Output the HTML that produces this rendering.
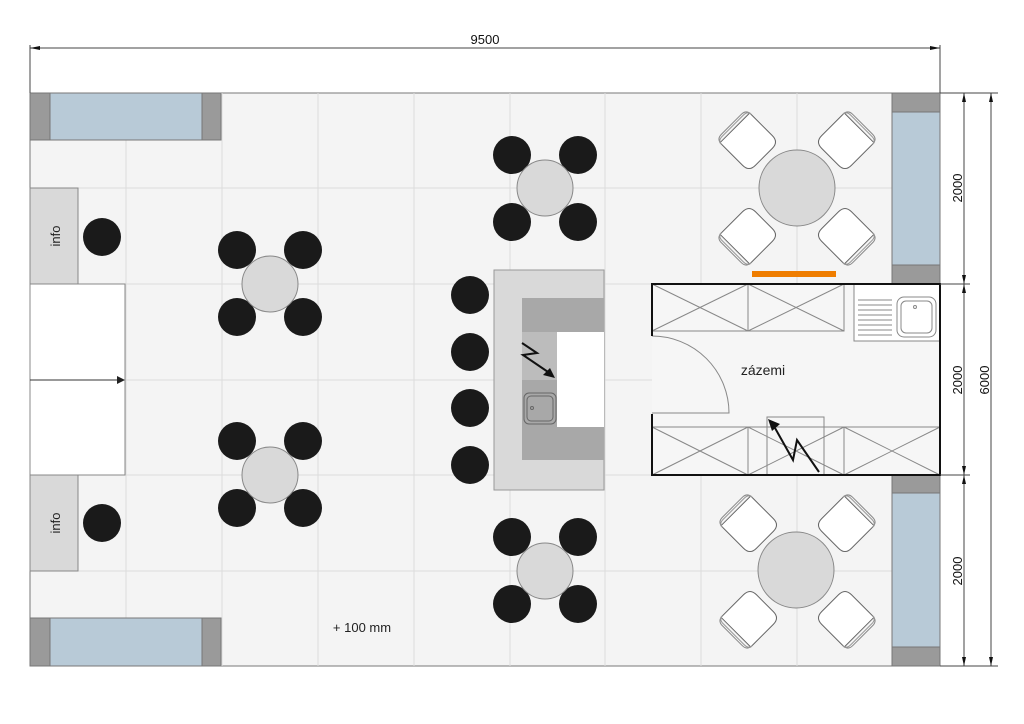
<!DOCTYPE html>
<html><head><meta charset="utf-8"><style>html,body{margin:0;padding:0;background:#fff}svg{display:block}text{font-family:"Liberation Sans",sans-serif}</style></head><body>
<svg width="1024" height="724" viewBox="0 0 1024 724" xmlns="http://www.w3.org/2000/svg">
<defs>
<g id="chair">
<path d="M-21,-20 L21,-20 L21,12 Q21,21 12,21 L-12,21 Q-21,21 -21,12 Z" fill="#fff" stroke="#666" stroke-width="1"/>
<path d="M-21,-18 Q-21,-25 -14,-25 L14,-25 Q21,-25 21,-18" fill="none" stroke="#888" stroke-width="1"/>
<path d="M-21,-18 Q-21,-23 -15,-23 L15,-23 Q21,-23 21,-18" fill="none" stroke="#999" stroke-width="1"/>
</g>
</defs>
<rect x="30" y="93" width="910" height="573" fill="#f4f4f4" stroke="#777" stroke-width="1"/>
<g stroke="#dcdcdc" stroke-width="1">
<line x1="126" y1="93" x2="126" y2="666"/><line x1="222" y1="93" x2="222" y2="666"/><line x1="318" y1="93" x2="318" y2="666"/><line x1="414" y1="93" x2="414" y2="666"/><line x1="510" y1="93" x2="510" y2="666"/><line x1="605" y1="93" x2="605" y2="666"/><line x1="701" y1="93" x2="701" y2="666"/><line x1="797" y1="93" x2="797" y2="666"/><line x1="893" y1="93" x2="893" y2="666"/>
<line x1="30" y1="188" x2="940" y2="188"/><line x1="30" y1="284" x2="940" y2="284"/><line x1="30" y1="380" x2="940" y2="380"/><line x1="30" y1="475" x2="940" y2="475"/><line x1="30" y1="571" x2="940" y2="571"/>
</g>
<g stroke="#777" stroke-width="1">
<rect x="30" y="93" width="20" height="47" fill="#9a9a9a"/><rect x="50" y="93" width="152" height="47" fill="#b8cad7"/><rect x="202" y="93" width="19" height="47" fill="#9a9a9a"/>
<rect x="30" y="618" width="20" height="48" fill="#9a9a9a"/><rect x="50" y="618" width="152" height="48" fill="#b8cad7"/><rect x="202" y="618" width="19" height="48" fill="#9a9a9a"/>
<rect x="892" y="93" width="48" height="19" fill="#9a9a9a"/><rect x="892" y="112" width="48" height="153" fill="#b8cad7"/><rect x="892" y="265" width="48" height="19" fill="#9a9a9a"/>
<rect x="892" y="475" width="48" height="18" fill="#9a9a9a"/><rect x="892" y="493" width="48" height="154" fill="#b8cad7"/><rect x="892" y="647" width="48" height="19" fill="#9a9a9a"/>
</g>
<rect x="30" y="188" width="48" height="96" fill="#d9d9d9" stroke="#888"/>
<rect x="30" y="475" width="48" height="96" fill="#d9d9d9" stroke="#888"/>
<text transform="translate(60,236) rotate(-90)" font-size="13" text-anchor="middle" fill="#222">info</text>
<text transform="translate(60,523) rotate(-90)" font-size="13" text-anchor="middle" fill="#222">info</text>
<rect x="30" y="284" width="95" height="191" fill="#fff" stroke="#888"/>
<line x1="30" y1="380" x2="120" y2="380" stroke="#333"/><path d="M125,380 L117,376 L117,384Z" fill="#222"/>
<g fill="#1a1a1a">
<circle cx="102" cy="237" r="19"/><circle cx="102" cy="523" r="19"/>
<circle cx="237" cy="250" r="19"/><circle cx="303" cy="250" r="19"/><circle cx="237" cy="317" r="19"/><circle cx="303" cy="317" r="19"/>
<circle cx="237" cy="441" r="19"/><circle cx="303" cy="441" r="19"/><circle cx="237" cy="508" r="19"/><circle cx="303" cy="508" r="19"/>
<circle cx="512" cy="155" r="19"/><circle cx="578" cy="155" r="19"/><circle cx="512" cy="222" r="19"/><circle cx="578" cy="222" r="19"/>
<circle cx="512" cy="537" r="19"/><circle cx="578" cy="537" r="19"/><circle cx="512" cy="604" r="19"/><circle cx="578" cy="604" r="19"/>
<circle cx="470" cy="295" r="19"/><circle cx="470" cy="352" r="19"/><circle cx="470" cy="408" r="19"/><circle cx="470" cy="465" r="19"/>
</g>
<g fill="#d9d9d9" stroke="#888">
<circle cx="270" cy="284" r="28"/><circle cx="270" cy="475" r="28"/><circle cx="545" cy="188" r="28"/><circle cx="545" cy="571" r="28"/>
</g>
<rect x="494" y="270" width="110" height="220" fill="#d9d9d9" stroke="#999"/>
<rect x="522" y="298" width="82" height="34" fill="#a8a8a8"/>
<rect x="557" y="332" width="47" height="95" fill="#fff"/>
<rect x="522" y="332" width="35" height="48" fill="#bcbcbc"/>
<rect x="522" y="380" width="35" height="80" fill="#a8a8a8"/>
<rect x="522" y="427" width="82" height="33" fill="#a8a8a8"/>
<rect x="524" y="393" width="32" height="31" rx="5" fill="#a8a8a8" stroke="#666"/>
<rect x="527" y="396" width="26" height="25" rx="4" fill="none" stroke="#666"/>
<circle cx="532" cy="408" r="1.5" fill="none" stroke="#666"/>
<path d="M522,343 L537,353 L523,355 L551,374" fill="none" stroke="#111" stroke-width="2"/>
<path d="M555,378 L543,375 L550,368Z" fill="#111"/>
<rect x="752" y="271" width="84" height="6" fill="#ef7d00"/>
<rect x="652" y="284" width="288" height="191" fill="#f6f6f6"/>
<g stroke="#888" fill="none">
<rect x="652" y="284" width="96" height="47"/><path d="M652,284 L748,331 M748,284 L652,331"/>
<rect x="748" y="284" width="96" height="47"/><path d="M748,284 L844,331 M844,284 L748,331"/>
<rect x="854" y="284" width="86" height="57" fill="#fff"/>
<path d="M858,300h34M858,305h34M858,310h34M858,315h34M858,320h34M858,325h34M858,330h34M858,335h34"/>
<rect x="897" y="297" width="39" height="40" rx="7" fill="#fff"/><rect x="901" y="301" width="31" height="32" rx="5"/>
<circle cx="915" cy="307" r="1.5"/>
<rect x="652" y="427" width="96" height="48"/><path d="M652,427 L748,475 M748,427 L652,475"/>
<rect x="748" y="427" width="96" height="48"/><path d="M748,427 L844,475 M844,427 L748,475"/>
<rect x="844" y="427" width="96" height="48"/><path d="M844,427 L940,475 M940,427 L844,475"/>
<rect x="767" y="417" width="57" height="58"/>
<path d="M652,336 A77,77 0 0 1 729,413 L652,413"/>
</g>
<path d="M652,336 L652,284 L940,284 L940,475 L652,475 L652,414" fill="none" stroke="#111" stroke-width="2"/>
<path d="M819,472 L797,440 L793,460 L775,428" fill="none" stroke="#111" stroke-width="2"/>
<path d="M768,419 L780,424 L772,431Z" fill="#111"/>
<text x="763" y="375" font-size="14" text-anchor="middle" fill="#222">zázemi</text>
<circle cx="797" cy="188" r="38" fill="#d9d9d9" stroke="#888"/>
<circle cx="796" cy="570" r="38" fill="#d9d9d9" stroke="#888"/>
<use href="#chair" transform="translate(749,142) rotate(-45)"/>
<use href="#chair" transform="translate(845,142) rotate(45)"/>
<use href="#chair" transform="translate(749,235) rotate(-135)"/>
<use href="#chair" transform="translate(845,235) rotate(135)"/>
<use href="#chair" transform="translate(750,525) rotate(-45)"/>
<use href="#chair" transform="translate(845,525) rotate(45)"/>
<use href="#chair" transform="translate(750,618) rotate(-135)"/>
<use href="#chair" transform="translate(845,618) rotate(135)"/>
<text x="362" y="632" font-size="13" text-anchor="middle" fill="#222">+ 100 mm</text>
<g stroke="#444" stroke-width="1" fill="none">
<line x1="30" y1="48" x2="940" y2="48"/><line x1="30" y1="45" x2="30" y2="93"/><line x1="940" y1="45" x2="940" y2="93"/>
<line x1="940" y1="93" x2="998" y2="93"/><line x1="940" y1="666" x2="998" y2="666"/>
<line x1="940" y1="284" x2="970" y2="284"/><line x1="940" y1="475" x2="970" y2="475"/>
<line x1="964" y1="93" x2="964" y2="666"/><line x1="991" y1="93" x2="991" y2="666"/>
</g>
<g fill="#111">
<path d="M30,48 l10,-2 v4z"/><path d="M940,48 l-10,-2 v4z"/>
<path d="M964,93 l-2,9 h4z"/><path d="M964,284 l-2,-9 h4z"/><path d="M964,284 l-2,9 h4z"/><path d="M964,475 l-2,-9 h4z"/><path d="M964,475 l-2,9 h4z"/><path d="M964,666 l-2,-9 h4z"/>
<path d="M991,93 l-2,9 h4z"/><path d="M991,666 l-2,-9 h4z"/>
</g>
<text x="485" y="44" font-size="13" text-anchor="middle" fill="#111">9500</text>
<g font-size="13" fill="#111" text-anchor="middle">
<text transform="translate(962,188) rotate(-90)">2000</text>
<text transform="translate(962,380) rotate(-90)">2000</text>
<text transform="translate(962,571) rotate(-90)">2000</text>
<text transform="translate(989,380) rotate(-90)">6000</text>
</g>
</svg>
</body></html>
